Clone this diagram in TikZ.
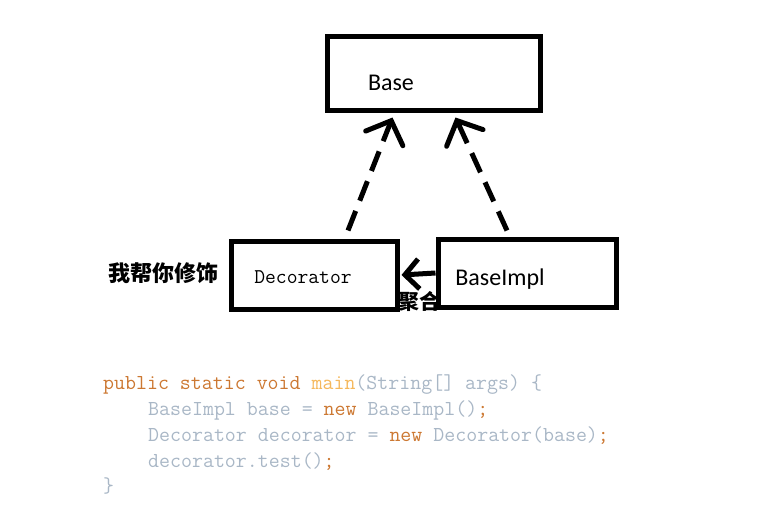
\documentclass[tikz,border=0pt]{standalone}
\usepackage{fontspec}
\setmainfont{Carlito}
\newfontfamily\cjk{Noto Sans CJK SC}
\usetikzlibrary{arrows.meta}

\definecolor{kw}{HTML}{CC7832}
\definecolor{fn}{HTML}{F5B85C}
\definecolor{plain}{HTML}{A9B7C6}

\tikzset{
  box/.style={draw,line width=5pt,inner sep=0pt},
  dep/.style={line width=5pt,dash pattern=on 21pt off 11pt,-{Straight Barb[length=19pt,width=40pt,line cap=round]}},
  agg/.style={line width=5pt,-{Straight Barb[length=14pt,width=30pt]}},
  code/.style={anchor=base west,font=\fontsize{21.3}{23}\ttfamily,color=plain,inner sep=0pt}
}

\begin{document}
\begin{tikzpicture}[x=1pt,y=-1pt]
  \useasboundingbox (0,0) rectangle (761,524);
  % boxes
  \node[box,minimum width=213pt,minimum height=74pt] (base) at (433.5,74) {};
  \node[box,minimum width=166pt,minimum height=68pt] (deco) at (314,275) {};
  \node[box,minimum width=178pt,minimum height=68pt] (bimpl) at (527,273) {};
  \node[font=\fontsize{24}{26}\selectfont] (basetxt) at (391,83) {Base};
  \node[font=\fontsize{21}{23}\ttfamily] (decotxt) at (303,277) {Decorator};
  \node[font=\fontsize{24}{26}\selectfont] (bimpltxt) at (500,279) {BaseImpl};
  % labels
  \node[font=\fontsize{22}{24}\cjk\bfseries] (note) at (163,273) {我帮你修饰};
  \node[font=\fontsize{21}{23}\cjk\bfseries] (agglbl) at (419,301) {聚合};
  % connectors
  \draw[dep] ([xshift=34pt,yshift=8pt]deco.north) -- ([xshift=-41pt,yshift=-4pt]base.south);
  \draw[dep] ([xshift=-20pt,yshift=6pt]bimpl.north) -- ([xshift=22pt,yshift=-4pt]base.south);
  \draw[agg] (bimpl.west) -- ([xshift=2pt]deco.east);
  % code
  \node[code] (c1) at (103,389) {\textcolor{kw}{public static void} \textcolor{fn}{main}(String[] args) \{};
  \node[code] (c2) at (148,415) {BaseImpl base = \textcolor{kw}{new} BaseImpl()\textcolor{kw}{;}};
  \node[code] (c3) at (148,441) {Decorator decorator = \textcolor{kw}{new} Decorator(base)\textcolor{kw}{;}};
  \node[code] (c4) at (148,467) {decorator.test()\textcolor{kw}{;}};
  \node[code] (c5) at (103,492) {\}};
\end{tikzpicture}
\end{document}
